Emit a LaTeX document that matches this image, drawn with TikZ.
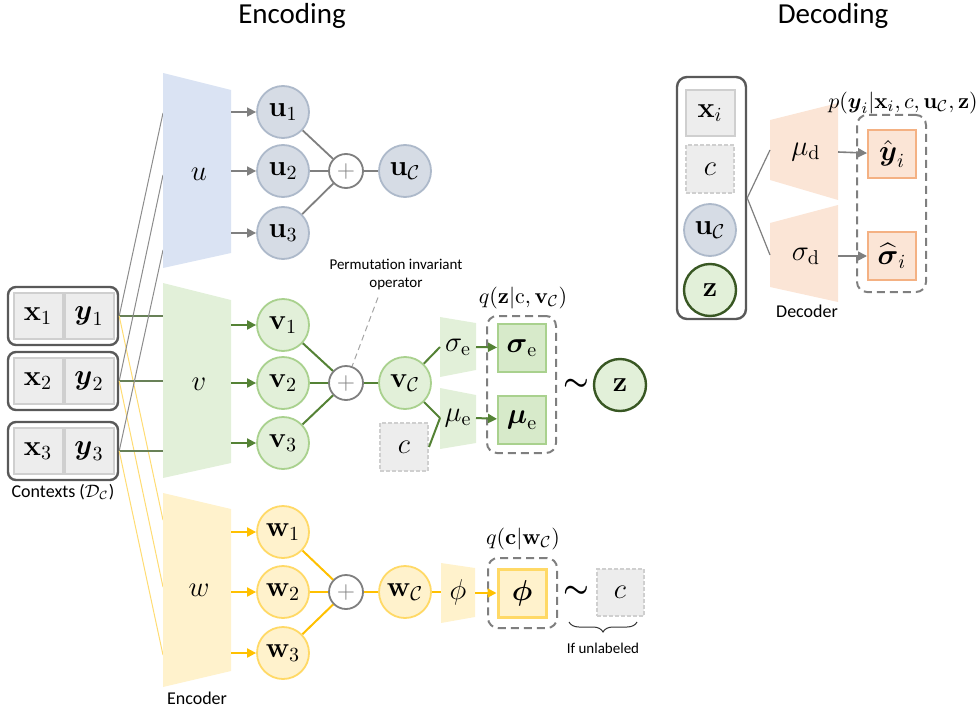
\documentclass[tikz,border=0pt]{standalone}
\usepackage{amsmath}
\usepackage{amssymb}
\usepackage[no-math]{fontspec}
\setmainfont{Carlito}
\usetikzlibrary{arrows.meta}
\usetikzlibrary{decorations.pathreplacing}

\definecolor{ufill}{HTML}{DAE3F3}
\definecolor{ucfill}{HTML}{D6DCE5}
\definecolor{uedge}{HTML}{ADB9CA}
\definecolor{vfill}{HTML}{E2F0D9}
\definecolor{vedge}{HTML}{A9D18E}
\definecolor{vdark}{HTML}{548235}
\definecolor{zedge}{HTML}{385723}
\definecolor{wfill}{HTML}{FFF2CC}
\definecolor{wedge}{HTML}{FFD966}
\definecolor{wdark}{HTML}{FFC000}
\definecolor{dfill}{HTML}{FBE5D6}
\definecolor{dedge}{HTML}{F4B183}
\definecolor{cellfill}{HTML}{EDEDED}
\definecolor{celledge}{HTML}{CFCFCF}
\definecolor{boxedge}{HTML}{595959}
\definecolor{midgray}{HTML}{7F7F7F}
\colorlet{vbox}{vfill!80!vedge}

\newcommand{\mathsz}{\fontsize{14}{16}\selectfont}

\tikzset{
  headtext/.style={font=\fontsize{14.5}{17}\selectfont},
  smalltext/.style={font=\fontsize{9}{11}\selectfont},
  tinytext/.style={font=\fontsize{7.5}{9}\selectfont, align=center},
  mathlbl/.style={font=\mathsz},
  qlabel/.style={font=\fontsize{11}{13}\selectfont},
  simnode/.style={font=\fontsize{14}{14}\selectfont},
  ctxbox/.style={draw=boxedge, line width=1.2pt, rounded corners=4pt, minimum width=55pt, minimum height=29pt},
  cell/.style={draw=celledge, line width=1pt, fill=cellfill, minimum width=24.5pt, minimum height=23pt, inner sep=0pt, font=\mathsz},
  dcell/.style={cell, dash pattern=on 2pt off 1pt, minimum width=24pt, minimum height=24pt},
  latent/.style={circle, line width=0.9pt, minimum size=26pt, inner sep=0pt, font=\mathsz},
  ucirc/.style={latent, draw=uedge, fill=ucfill},
  vcirc/.style={latent, draw=vedge, fill=vfill},
  wcirc/.style={latent, draw=wedge, fill=wfill},
  zcirc/.style={latent, draw=zedge, fill=vfill, line width=1.2pt},
  plusnode/.style={circle, draw=midgray, fill=white, line width=0.9pt, minimum size=17pt, inner sep=0pt, text=midgray, font=\fontsize{13}{13}\selectfont},
  param/.style={rectangle, line width=1pt, minimum size=24pt, inner sep=0pt, font=\mathsz},
  dashbox/.style={draw=midgray, line width=1pt, rounded corners=5pt, dash pattern=on 4pt off 2.5pt},
  uthin/.style={draw=midgray!90, line width=0.5pt},
  vthin/.style={draw=vdark!55!gray, line width=0.7pt},
  wthin/.style={draw=wdark!55, line width=0.5pt},
  uline/.style={draw=midgray, line width=0.9pt},
  vline/.style={draw=vdark, line width=1pt},
  wline/.style={draw=wdark, line width=1pt},
  garrow/.style={->, draw=midgray, fill=midgray, line width=0.8pt},
  varrow/.style={->, draw=vdark, fill=vdark, line width=1pt},
  warrow/.style={->, draw=wdark, fill=wdark, line width=1pt},
}

\begin{document}
\begin{tikzpicture}[x=0.5pt, y=-0.5pt, >={Triangle[length=4.5pt, width=4.5pt]}]
\useasboundingbox (0,0) rectangle (977,711);

% titles
\node[headtext] (enctitle) at (292,16) {Encoding};
\node[headtext] (dectitle) at (833,16) {Decoding};

% where the context lines meet the encoders
\coordinate (uin1) at (163,113);
\coordinate (uin2) at (163,175);
\coordinate (uin3) at (163,250);
\coordinate (win1) at (163,520);
\coordinate (win2) at (163,587);
\coordinate (win3) at (163,655);
\coordinate (vleft) at (163,383);

% context pairs
\foreach \i/\y in {1/316, 2/381, 3/451} {
  \node[ctxbox] (ctx\i) at (63,\y) {};
  \node[cell] (x\i) at (38,\y) {$\mathbf{x}_{\i}$};
  \node[cell] (y\i) at (89,\y) {$\boldsymbol{y}_{\i}$};
  \draw[uthin] (ctx\i.east) -- (uin\i);
  \draw[vthin] (ctx\i.east) -- (ctx\i.east -| vleft);
  \draw[wthin] (ctx\i.east) -- (win\i);
}
\node[smalltext] (ctxlabel) at (63,492) {Contexts ($\mathcal{D}_{\mathcal{C}}$)};

% encoder u
\fill[ufill] (163,73) -- (231,90) -- (231,253) -- (163,268) -- cycle;
\node[mathlbl] (encu) at (199,174) {$u$};
\coordinate (uright) at (231,171);
\node[plusnode] (pu) at (346,171) {$+$};
\node[ucirc] (uC) at (405,171) {$\mathbf{u}_{\mathcal{C}}$};
\foreach \i/\y in {1/112, 2/171, 3/233} {
  \node[ucirc] (u\i) at (283,\y) {$\mathbf{u}_{\i}$};
  \draw[garrow] (uright |- u\i) -- (u\i);
  \draw[uline] (u\i) -- (pu);
}
\draw[uline] (pu) -- (uC);

% encoder v
\fill[vfill] (163,283) -- (231,300) -- (231,463) -- (163,478) -- cycle;
\node[mathlbl] (encv) at (199,384) {$v$};
\coordinate (vright) at (231,383);
\node[plusnode] (pv) at (346,383) {$+$};
\node[vcirc] (vC) at (405,383) {$\mathbf{v}_{\mathcal{C}}$};
\foreach \i/\y in {1/325, 2/383, 3/443} {
  \node[vcirc] (v\i) at (283,\y) {$\mathbf{v}_{\i}$};
  \draw[varrow] (vright |- v\i) -- (v\i);
  \draw[vline] (v\i) -- (pv);
}
\draw[vline] (pv) -- (vC);

\node[tinytext] (perm) at (396,275) {Permutation invariant\\operator};
\draw[draw=midgray!70, densely dashed, line width=0.5pt] ([xshift=-9pt]perm.south) -- (pv.70);

% sigma_e and mu_e heads
\fill[vfill] (440,317) -- (476,323) -- (476,370) -- (440,377) -- cycle;
\fill[vfill] (440,388) -- (476,395) -- (476,443) -- (440,449) -- cycle;
\node[mathlbl] (sehead) at (458,347) {$\sigma_{\mathrm{e}}$};
\node[mathlbl] (muhead) at (458,418) {$\mu_{\mathrm{e}}$};
\coordinate (sein) at (440,347);
\coordinate (seout) at (476,347);
\coordinate (muin) at (440,418);
\coordinate (muout) at (476,418);
\node[dcell] (cv) at (404,447) {$c$};
\draw[vline] (vC) -- (sein);
\draw[vline] (vC) -- (muin);
\draw[vline] (cv.east) -- (muin);

\node[dashbox, minimum width=34.5pt, minimum height=68.5pt] (qz) at (521.5,384.5) {};
\node[param, draw=vedge, fill=vbox] (sebox) at (522,348) {$\boldsymbol{\sigma}_{\mathrm{e}}$};
\node[param, draw=vedge, fill=vbox] (mubox) at (522,420) {$\boldsymbol{\mu}_{\mathrm{e}}$};
\draw[varrow] (seout) -- (sebox);
\draw[varrow] (muout) -- (mubox);
\node[qlabel] (qzlabel) at (523,298) {$q(\mathbf{z}|\mathrm{c},\mathbf{v}_{\mathcal{C}})$};
\node[simnode] (simz) at (576,385) {$\boldsymbol{\sim}$};
\node[zcirc] (z) at (620,385) {$\mathbf{z}$};

% encoder w
\fill[wfill] (163,493) -- (231,509) -- (231,671) -- (163,687) -- cycle;
\node[mathlbl] (encw) at (199,590) {$w$};
\node[smalltext] (enclabel) at (197,698) {Encoder};
\coordinate (wright) at (231,592);
\node[plusnode] (pw) at (346,592) {$+$};
\node[wcirc] (wC) at (405,592) {$\mathbf{w}_{\mathcal{C}}$};
\foreach \i/\y in {1/532, 2/592, 3/653} {
  \node[wcirc] (w\i) at (283,\y) {$\mathbf{w}_{\i}$};
  \draw[warrow] (wright |- w\i) -- (w\i);
  \draw[wline] (w\i) -- (pw);
}
\draw[wline] (pw) -- (wC);

% phi head
\fill[wfill] (441,563) -- (475,568) -- (475,617) -- (441,623) -- cycle;
\node[mathlbl] (phihead) at (458,592) {$\phi$};
\coordinate (phiin) at (441,592);
\coordinate (phiout) at (475,593);
\draw[wline] (wC) -- (phiin);
\node[dashbox, minimum width=34.5pt, minimum height=35pt] (qc) at (522.5,593) {};
\node[param, draw=wedge, fill=wfill, line width=1.5pt] (phibox) at (522,593) {$\boldsymbol{\phi}$};
\draw[warrow] (phiout) -- (phibox);
\node[qlabel] (qclabel) at (523,539) {$q(\mathbf{c}|\mathbf{w}_{\mathcal{C}})$};
\node[simnode] (simc) at (576,592) {$\boldsymbol{\sim}$};
\node[dcell, minimum width=23.5pt, minimum height=23.5pt] (cw) at (620,592) {$c$};
\coordinate (brl) at (569,622);
\coordinate (brr) at (637,622);
\draw[draw=black!80, line width=0.5pt, decorate, decoration={brace, mirror, amplitude=5pt}] (brl) -- (brr);
\node[tinytext] (unlab) at (603,648) {If unlabeled};

% decoder inputs
\node[ctxbox, minimum width=34.5pt, minimum height=121pt, rounded corners=5pt] (dbox) at (711.5,198) {};
\node[cell] (xi) at (710,113) {$\mathbf{x}_i$};
\node[dcell] (cd) at (710,169) {$c$};
\node[ucirc] (uCd) at (710,230) {$\mathbf{u}_{\mathcal{C}}$};
\node[zcirc] (zd) at (710,290) {$\mathbf{z}$};

% decoder heads
\fill[dfill] (770,120) -- (838,103) -- (838,200) -- (770,180) -- cycle;
\fill[dfill] (770,223) -- (838,205) -- (838,302) -- (770,287) -- cycle;
\node[mathlbl] (mudhead) at (806,152) {$\mu_{\mathrm{d}}$};
\node[mathlbl] (sdhead) at (806,256) {$\sigma_{\mathrm{d}}$};
\node[smalltext] (declabel) at (807,311) {Decoder};
\coordinate (mudin) at (770,150);
\coordinate (sdin) at (770,255);
\coordinate (mudout) at (838,152);
\coordinate (sdout) at (838,256);
\draw[uline, line width=0.6pt] (dbox.east) -- (mudin);
\draw[uline, line width=0.6pt] (dbox.east) -- (sdin);

\node[dashbox, minimum width=34.5pt, minimum height=88.5pt] (pbox) at (891.5,203.5) {};
\node[param, draw=dedge, fill=dfill] (yhat) at (892,154) {$\hat{\boldsymbol{y}}_i$};
\node[param, draw=dedge, fill=dfill] (shat) at (892,256) {$\widehat{\boldsymbol{\sigma}}_i$};
\draw[garrow] (mudout) -- (yhat);
\draw[garrow] (sdout) -- (shat);
\node[qlabel] (plabel) at (903,103) {$p(\boldsymbol{y}_i|\mathbf{x}_i,c,\mathbf{u}_{\mathcal{C}},\mathbf{z})$};
\end{tikzpicture}
\end{document}
